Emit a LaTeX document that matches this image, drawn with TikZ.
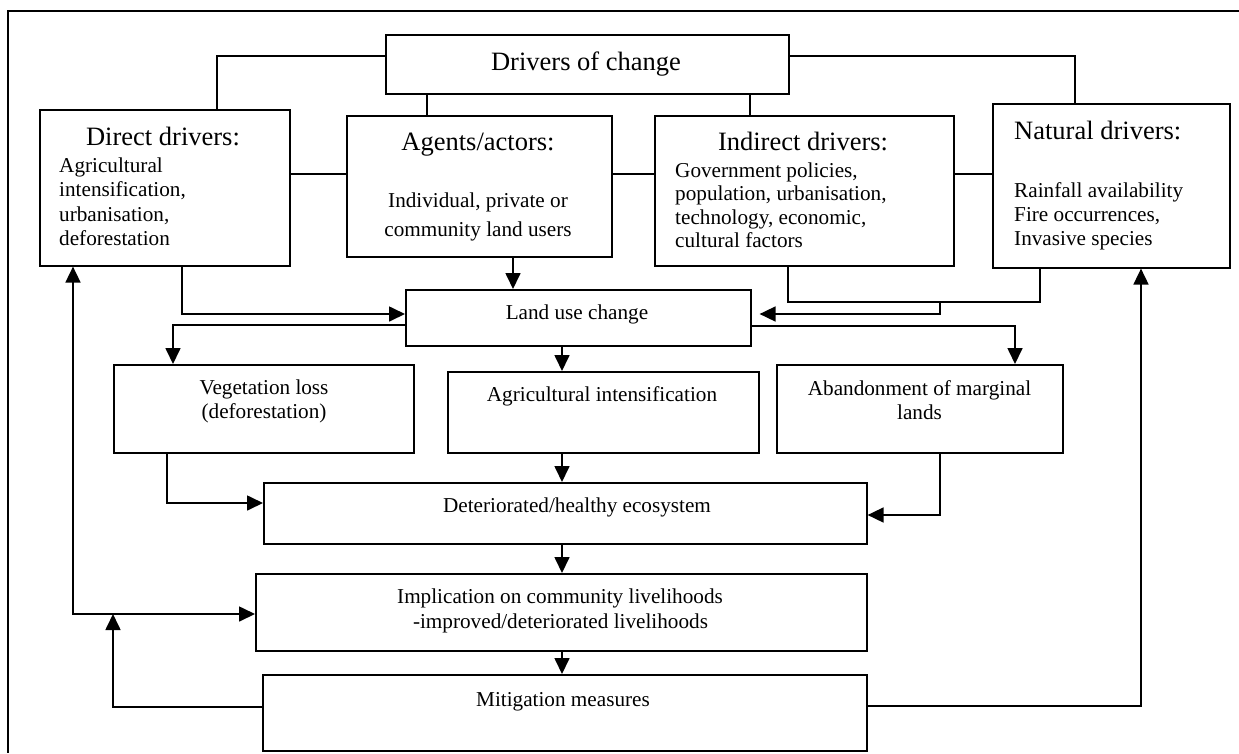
\documentclass[tikz,border=0pt]{standalone}
\usepackage{fontspec}
\setmainfont{Liberation Serif}
\usetikzlibrary{arrows.meta}
\begin{document}
\begin{tikzpicture}[x=1pt,y=-1pt,
  box/.style={draw, line width=1.6pt, inner sep=0pt, anchor=north west},
  conn/.style={line width=1.7pt},
  arr/.style={line width=1.7pt, -{Triangle[length=16pt,width=15pt]}},
  arrboth/.style={line width=1.7pt, {Triangle[length=16pt,width=15pt]}-{Triangle[length=16pt,width=15pt]}},
  body/.style={inner sep=0pt, font=\fontsize{21.2}{24.5}\selectfont},
  head/.style={inner sep=0pt, font=\fontsize{26.5}{30}\selectfont}]
\useasboundingbox (0,0) rectangle (1239,753);
% outer frame (cropped on right and bottom)
\draw[line width=1.6pt] (1239,11) -- (8,11) -- (8,753);
% boxes
\node[box, minimum width=403pt, minimum height=59pt] (dc) at (385,34) {};
\node[box, minimum width=250pt, minimum height=156pt] (dd) at (39,109) {};
\node[box, minimum width=265pt, minimum height=141pt] (ag) at (346,115) {};
\node[box, minimum width=299pt, minimum height=150pt] (id) at (654,115) {};
\node[box, minimum width=237pt, minimum height=164pt] (nd) at (992,103) {};
\node[box, minimum width=345pt, minimum height=56pt] (lu) at (405,289) {};
\node[box, minimum width=300pt, minimum height=88pt] (vl) at (113,364) {};
\node[box, minimum width=311pt, minimum height=81pt] (ai) at (447,371) {};
\node[box, minimum width=286pt, minimum height=88pt] (ab) at (776,364) {};
\node[box, minimum width=603pt, minimum height=61pt] (de) at (263,482) {};
\node[box, minimum width=611pt, minimum height=77pt] (im) at (255,573) {};
\node[box, minimum width=604pt, minimum height=76pt] (mi) at (262,674) {};
% texts
\node[head, anchor=base] (t1) at (586,70) {Drivers of change};
\node[head, anchor=base] (t2) at (163,145) {Direct drivers:};
\node[body, anchor=base west] (t3) at (59,172) {Agricultural};
\node[body, anchor=base west] (t4) at (59,196.5) {intensification,};
\node[body, anchor=base west] (t5) at (59,221) {urbanisation,};
\node[body, anchor=base west] (t6) at (59,245.5) {deforestation};
\node[head, anchor=base] (t7) at (478,150.5) {Agents/actors:};
\node[body, anchor=base] (t8) at (478,207) {Individual, private or};
\node[body, anchor=base] (t9) at (478,236) {community land users};
\node[head, anchor=base] (t10) at (803,150) {Indirect drivers:};
\node[body, anchor=base west] (t11) at (675,177) {Government policies,};
\node[body, anchor=base west] (t12) at (675,200.5) {population, urbanisation,};
\node[body, anchor=base west] (t13) at (675,224) {technology, economic,};
\node[body, anchor=base west] (t14) at (675,247.5) {cultural factors};
\node[head, anchor=base west] (t15) at (1014,139.5) {Natural drivers:};
\node[body, anchor=base west] (t16) at (1014,197) {Rainfall availability};
\node[body, anchor=base west] (t17) at (1014,221) {Fire occurrences,};
\node[body, anchor=base west] (t18) at (1014,245) {Invasive species};
\node[body, anchor=base] (t19) at (577,319) {Land use change};
\node[body, anchor=base] (t20) at (264,394) {Vegetation loss};
\node[body, anchor=base] (t21) at (264,418) {(deforestation)};
\node[body, anchor=base] (t22) at (602,401) {Agricultural intensification};
\node[body, anchor=base] (t23) at (919.5,395) {Abandonment of marginal};
\node[body, anchor=base] (t24) at (919.5,419) {lands};
\node[body, anchor=base] (t25) at (577,512) {Deteriorated/healthy ecosystem};
\node[body, anchor=base] (t26) at (560,603) {Implication on community livelihoods};
\node[body, anchor=base] (t27) at (560.5,628) {-improved/deteriorated livelihoods};
\node[body, anchor=base] (t28) at (563,706) {Mitigation measures};
% helper coordinates
\coordinate (c1) at (217,56);
\coordinate (c2) at (1075,56);
\coordinate (c3) at (427,0);
\coordinate (c4) at (750,0);
\coordinate (c5) at (0,174);
\coordinate (c6) at (513,0);
\coordinate (c7) at (182,314);
\coordinate (c8) at (173,325);
\coordinate (c9) at (788,302);
\coordinate (c10) at (1040,302);
\coordinate (c11) at (940,302);
\coordinate (c12) at (940,314);
\coordinate (c13) at (1015,326);
\coordinate (c14) at (562,0);
\coordinate (c15) at (167,503);
\coordinate (c16) at (940,515);
\coordinate (c17) at (73,614);
\coordinate (c18) at (113,707);
\coordinate (c19) at (1141,706);
% connectors
\draw[conn] (c1 -| dc.west) -- (c1) -- (c1 |- dd.north);
\draw[conn] (c2 -| dc.east) -- (c2) -- (c2 |- nd.north);
\draw[conn] (c3 |- dc.south) -- (c3 |- ag.north);
\draw[conn] (c4 |- dc.south) -- (c4 |- id.north);
\draw[conn] (c5 -| dd.east) -- (c5 -| ag.west);
\draw[conn] (c5 -| ag.east) -- (c5 -| id.west);
\draw[conn] (c5 -| id.east) -- (c5 -| nd.west);
\draw[arr] (c6 |- ag.south) -- (c6 |- lu.north);
\draw[arr] (c7 |- dd.south) -- (c7) -- (c7 -| lu.west);
\draw[arr] (c8 -| lu.west) -- (c8) -- (c8 |- vl.north);
\draw[conn] (c9 |- id.south) -- (c9) -- (c10) -- (c10 |- nd.south);
\draw[arr, shorten >=8pt] (c11) -- (c12) -- (c12 -| lu.east);
\draw[arr] (c13 -| lu.east) -- (c13) -- (c13 |- ab.north);
\draw[arr] (c14 |- lu.south) -- (c14 |- ai.north);
\draw[arr] (c14 |- ai.south) -- (c14 |- de.north);
\draw[arr] (c14 |- de.south) -- (c14 |- im.north);
\draw[arr] (c14 |- im.south) -- (c14 |- mi.north);
\draw[arr] (c15 |- vl.south) -- (c15) -- (c15 -| de.west);
\draw[arr] (c16 |- ab.south) -- (c16) -- (c16 -| de.east);
\draw[arrboth] (c17 |- dd.south) -- (c17) -- (c17 -| im.west);
\draw[arr] (c18 -| mi.west) -- (c18) -- (c18 |- c17);
\draw[arr] (c19 -| mi.east) -- (c19) -- (c19 |- nd.south);
\end{tikzpicture}
\end{document}
